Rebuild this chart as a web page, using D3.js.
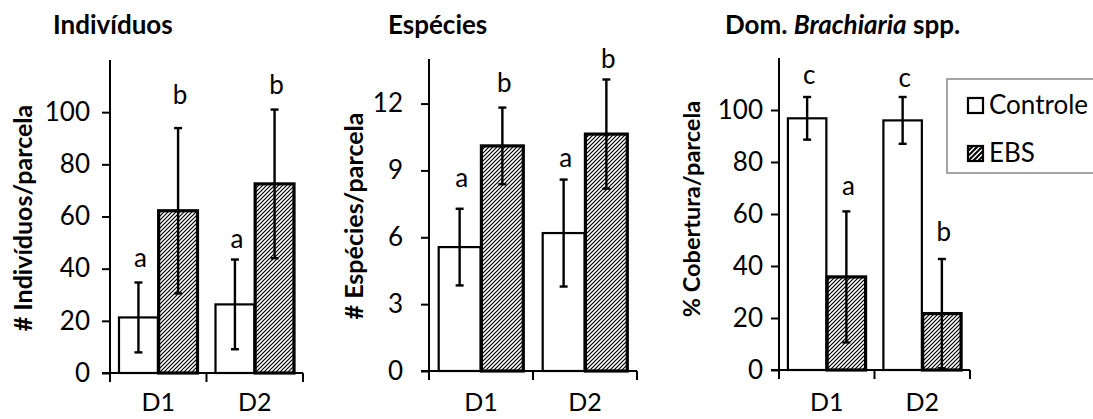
<!DOCTYPE html>
<html>
<head>
<meta charset="utf-8">
<script src="https://cdn.jsdelivr.net/npm/d3@7"></script>
<style>
  body { margin: 0; background: #fff; }
  text { font-family: Lato, "Open Sans", sans-serif; fill: #000; }
</style>
</head>
<body>
<div id="viz"></div>
<script>
// categories and series
const categories = ["D1", "D2"];
const seriesNames = ["Controle", "EBS"];

// Indivíduos
const indControle = [21.3, 26.3];
const indControleErr = [13.4, 17.2];
const indEBS = [62.2, 72.5];
const indEBSErr = [31.7, 28.5];
const indLetters = [["a", "b"], ["a", "b"]];
const indLetterAt = [[40.5, 103], [48, 107]];
const indTicks = [0, 20, 40, 60, 80, 100];

// Espécies
const espControle = [5.56, 6.19];
const espControleErr = [1.72, 2.4];
const espEBS = [10.1, 10.63];
const espEBSErr = [1.72, 2.45];
const espLetters = [["a", "b"], ["a", "b"]];
const espLetterAt = [[8.25, 12.5], [9.15, 13.6]];
const espTicks = [0, 3, 6, 9, 12];

// Dom. Brachiaria spp.
const cobControle = [96.8, 96.0];
const cobControleErr = [8.2, 9.0];
const cobEBS = [35.8, 21.7];
const cobEBSErr = [25.2, 21.0];
const cobLetters = [["c", "a"], ["c", "b"]];
const cobLetterAt = [[110, 67.4], [109, 49.5]];
const cobTicks = [0, 20, 40, 60, 80, 100];

let w = 1093;
let h = 419;
let fs = 26; // tick / letter font size

let svg = d3.select("#viz")
  .append("svg")
  .attr("width", w)
  .attr("height", h);

// hatch for EBS
let defs = svg.append("defs");
defs.append("pattern")
  .attr("id", "hatch")
  .attr("patternUnits", "userSpaceOnUse")
  .attr("width", 4)
  .attr("height", 4)
  .call(p => {
    p.append("rect").attr("width", 4).attr("height", 4).attr("fill", "#fff");
    p.append("path")
      .attr("d", "M-1,1 l2,-2 M0,4 l4,-4 M3,5 l2,-2")
      .attr("stroke", "#000")
      .attr("stroke-width", 1.2);
  });
defs.append("pattern")
  .attr("id", "hatchLegend")
  .attr("patternUnits", "userSpaceOnUse")
  .attr("width", 5)
  .attr("height", 5)
  .call(p => {
    p.append("rect").attr("width", 5).attr("height", 5).attr("fill", "#fff");
    p.append("path")
      .attr("d", "M-1,1 l2,-2 M0,5 l5,-5 M4,6 l2,-2")
      .attr("stroke", "#000")
      .attr("stroke-width", 2);
  });

function drawPanel(cfg) {
  let g = svg.append("g");

  let y = d3.scaleLinear().domain([0, cfg.max]).range([cfg.y0, cfg.yTop]);
  let x = d3.scaleBand().domain(categories).range([cfg.x0, cfg.x1])
    .paddingInner(0.17).paddingOuter(0.085);
  let xs = d3.scaleBand().domain(seriesNames).range([0, x.bandwidth()]).padding(0.02);

  let rows = [];
  categories.forEach((c, i) => {
    rows.push({ cat: c, ser: "Controle", v: cfg.controle[i], e: cfg.controleErr[i],
      letter: cfg.letters[i][0], at: cfg.letterAt[i][0] });
    rows.push({ cat: c, ser: "EBS", v: cfg.ebs[i], e: cfg.ebsErr[i],
      letter: cfg.letters[i][1], at: cfg.letterAt[i][1] });
  });

  let cx = d => x(d.cat) + xs(d.ser) + xs.bandwidth() / 2;

  // bars
  g.selectAll(".bar")
    .data(rows)
    .join("rect")
    .attr("class", "bar")
    .attr("x", d => x(d.cat) + xs(d.ser))
    .attr("width", xs.bandwidth())
    .attr("y", d => y(d.v))
    .attr("height", d => y(0) - y(d.v))
    .attr("fill", d => d.ser == "EBS" ? "url(#hatch)" : "#fff")
    .attr("stroke", "#000")
    .attr("stroke-width", d => d.ser == "EBS" ? 3.2 : 2.2);

  // error bars
  let eb = g.selectAll(".err")
    .data(rows)
    .join("g")
    .attr("class", "err")
    .attr("stroke", "#000")
    .attr("stroke-width", 2.4);
  eb.append("line")
    .attr("x1", cx).attr("x2", cx)
    .attr("y1", d => y(Math.max(0, d.v - d.e)))
    .attr("y2", d => y(d.v + d.e));
  eb.append("line")
    .attr("x1", d => cx(d) - 4).attr("x2", d => cx(d) + 4)
    .attr("y1", d => y(d.v + d.e)).attr("y2", d => y(d.v + d.e));
  eb.filter(d => d.v - d.e > 0.5).append("line")
    .attr("x1", d => cx(d) - 4).attr("x2", d => cx(d) + 4)
    .attr("y1", d => y(d.v - d.e)).attr("y2", d => y(d.v - d.e));

  // letters
  g.selectAll(".letter")
    .data(rows)
    .join("text")
    .attr("class", "letter")
    .attr("x", d => cx(d) + 2)
    .attr("y", d => y(d.at))
    .attr("text-anchor", "middle")
    .style("font-size", fs + "px")
    .text(d => d.letter);

  // y axis
  let yAxis = g.append("g")
    .attr("transform", `translate(${cfg.x0},0)`)
    .call(d3.axisLeft(y).tickValues(cfg.ticks).tickSize(8).tickPadding(cfg.labelPad).tickSizeOuter(0));
  yAxis.select(".domain").remove();
  yAxis.append("line")
    .attr("y1", y(cfg.max)).attr("y2", y(0) + 9)
    .attr("stroke", "#000").attr("stroke-width", 2);
  yAxis.selectAll(".tick line").attr("stroke-width", 2);
  yAxis.selectAll(".tick text")
    .style("font-size", fs + "px")
    .style("font-family", "Lato, 'Open Sans', sans-serif")
    .attr("fill", "#000");

  // x axis
  g.append("line")
    .attr("x1", cfg.x0 - 8).attr("x2", cfg.x1)
    .attr("y1", y(0)).attr("y2", y(0))
    .attr("stroke", "#000").attr("stroke-width", 2);
  let bounds = [cfg.x0, x("D2") - x.step() * 0.085, cfg.x1];
  g.selectAll(".xtick")
    .data(bounds.slice(1))
    .join("line")
    .attr("x1", d => d).attr("x2", d => d)
    .attr("y1", y(0)).attr("y2", y(0) + 9)
    .attr("stroke", "#000").attr("stroke-width", 2);
  g.selectAll(".xlab")
    .data(categories)
    .join("text")
    .attr("x", d => x(d) + x.bandwidth() / 2)
    .attr("y", 411)
    .attr("text-anchor", "middle")
    .style("font-size", "25px")
    .text(d => d);

  // y label
  g.append("text")
    .attr("transform", `translate(${cfg.labelX},${cfg.labelY}) rotate(-90)`)
    .attr("text-anchor", "middle")
    .style("font-size", cfg.labelSize + "px")
    .style("font-weight", "bold")
    .text(cfg.yLabel);

  // title
  let t = g.append("text")
    .attr("x", cfg.titleX)
    .attr("y", 34)
    .style("font-size", "26px")
    .style("font-weight", "bold");
  cfg.title.forEach(part => {
    t.append("tspan").style("font-style", part[1] ? "italic" : "normal").text(part[0]);
  });
}

drawPanel({
  controle: indControle, controleErr: indControleErr, ebs: indEBS, ebsErr: indEBSErr,
  letters: indLetters, letterAt: indLetterAt, ticks: indTicks, max: 120,
  x0: 110, x1: 303, y0: 373, yTop: 60, labelPad: 12,
  yLabel: "# Indivíduos/parcela", labelX: 32, labelY: 218, labelSize: 25,
  title: [["Indivíduos", false]], titleX: 53
});

drawPanel({
  controle: espControle, controleErr: espControleErr, ebs: espEBS, ebsErr: espEBSErr,
  letters: espLetters, letterAt: espLetterAt, ticks: espTicks, max: 14,
  x0: 429, x1: 637, y0: 371, yTop: 59, labelPad: 18,
  yLabel: "# Espécies/parcela", labelX: 363, labelY: 216, labelSize: 25,
  title: [["Espécies", false]], titleX: 388
});

drawPanel({
  controle: cobControle, controleErr: cobControleErr, ebs: cobEBS, ebsErr: cobEBSErr,
  letters: cobLetters, letterAt: cobLetterAt, ticks: cobTicks, max: 120,
  x0: 779, x1: 970, y0: 370, yTop: 58, labelPad: 8,
  yLabel: "% Cobertura/parcela", labelX: 700, labelY: 209, labelSize: 23.5,
  title: [["Dom. ", false], ["Brachiaria", true], [" spp.", false]], titleX: 725
});

// legend
let lg = svg.append("g");
lg.append("rect")
  .attr("x", 947).attr("y", 79)
  .attr("width", 160).attr("height", 94)
  .attr("fill", "#fff")
  .attr("stroke", "#888").attr("stroke-width", 1.5);
let li = lg.selectAll(".li")
  .data(seriesNames)
  .join("g")
  .attr("transform", (d, i) => `translate(968,${98 + i * 48})`);
li.append("rect")
  .attr("width", 15).attr("height", 15)
  .attr("fill", d => d == "EBS" ? "url(#hatchLegend)" : "#fff")
  .attr("stroke", "#000").attr("stroke-width", 2.2);
li.append("text")
  .attr("x", 21).attr("y", 16)
  .style("font-size", "26px")
  .text(d => d);
</script>
</body>
</html>
